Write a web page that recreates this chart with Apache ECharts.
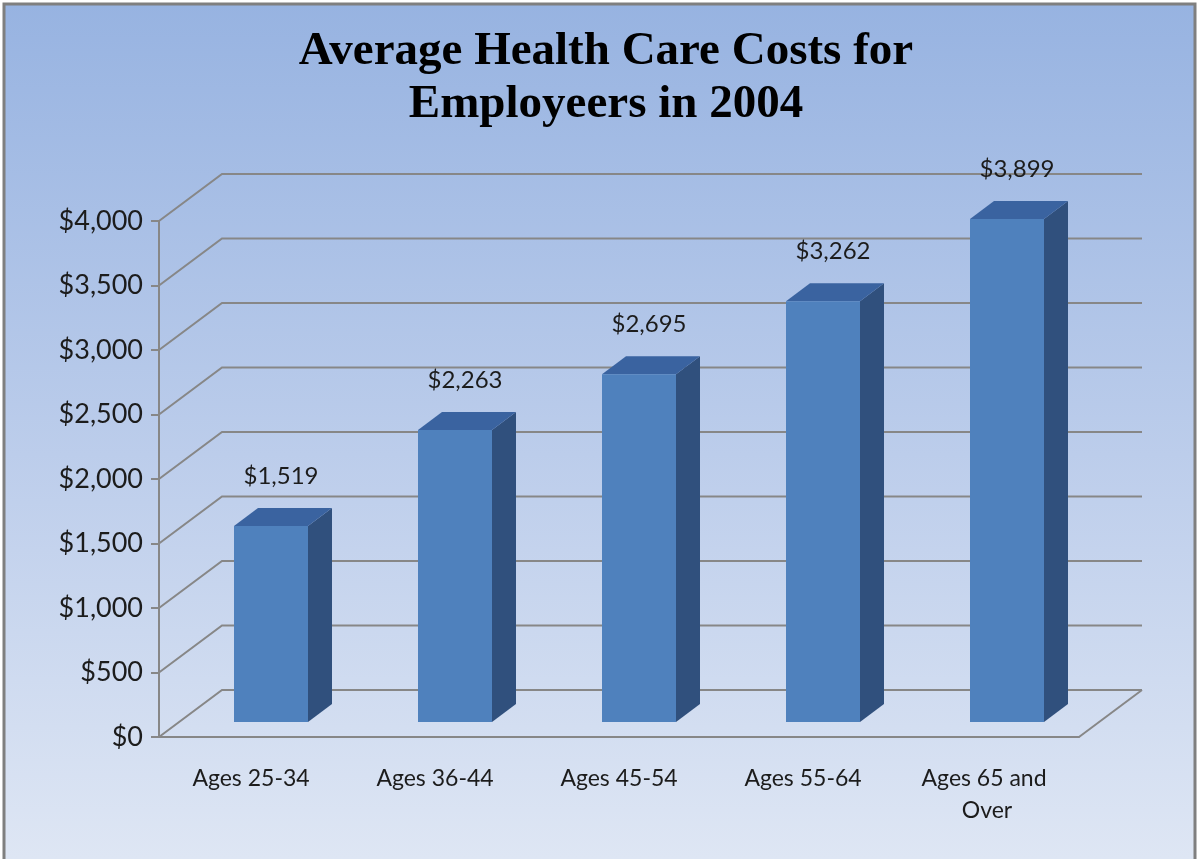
<!DOCTYPE html>
<html>
<head>
<meta charset="utf-8">
<script src="https://cdn.jsdelivr.net/npm/echarts@6/dist/echarts.min.js"></script>
<style>
  html, body { margin: 0; padding: 0; }
  #chart { width: 1197px; height: 859px; }
</style>
</head>
<body>
<div id="chart"></div>
<script>
// chart data
const categories = ["Ages 25-34", "Ages 36-44", "Ages 45-54", "Ages 55-64", "Ages 65 and Over"];
const costs = [1519, 2263, 2695, 3262, 3899];
const yTicks = [0, 500, 1000, 1500, 2000, 2500, 3000, 3500, 4000];

// fake 3d depth (pixels)
const WALL_DX = 63;
const WALL_DY = -47;
const BAR_SHIFT_X = 20;
const BAR_SHIFT_Y = -15;
const BAR_HALF = 37;
const BAR_DX = 24;
const BAR_DY = -18;

const money = (v) => "$" + v.toLocaleString("en-US");

const chart = echarts.init(document.getElementById("chart"));

const option = {
  animation: false,
  graphic: [
    {
      type: "rect",
      z: -10,
      shape: { x: 4, y: 4, width: 1191, height: 900 },
      style: {
        fill: new echarts.graphic.LinearGradient(0, 0, 0, 1, [
          { offset: 0, color: "#97b3e1" },
          { offset: 0.5, color: "#bccdeb" },
          { offset: 1, color: "#e2e9f5" },
        ]),
        stroke: "#7f7f7f",
        lineWidth: 3,
      },
    },
  ],
  title: {
    text: "Average Health Care Costs for\nEmployeers in 2004",
    left: 601,
    top: 20,
    textAlign: "center",
    textStyle: {
      fontFamily: "Liberation Serif",
      fontWeight: "bold",
      fontSize: 47,
      lineHeight: 53,
      color: "#000",
    },
  },
  grid: {
    left: 159,
    right: 118,
    top: 221,
    bottom: 122,
  },
  xAxis: {
    type: "category",
    data: categories,
    axisLine: { lineStyle: { color: "#878787", width: 2 } },
    axisTick: { length: 9, lineStyle: { color: "#878787", width: 2 } },
    axisLabel: {
      margin: 26,
      fontFamily: "Lato",
      fontSize: 23,
      lineHeight: 32,
      color: "#1c1c1c",
      width: 140,
      overflow: "break",
      interval: 0,
    },
    splitLine: { show: false },
  },
  yAxis: {
    type: "value",
    min: 0,
    max: 4000,
    interval: 500,
    axisLine: { show: true, lineStyle: { color: "#878787", width: 2 } },
    axisTick: { show: true, length: 8, lineStyle: { color: "#878787", width: 2 } },
    axisLabel: {
      margin: 16,
      fontFamily: "Lato",
      fontSize: 27,
      color: "#1c1c1c",
      formatter: (v) => money(v),
    },
    splitLine: { show: false },
  },
  series: [
    {
      // gridlines on side wall, back wall and floor
      type: "custom",
      clip: false,
      z: 1,
      silent: true,
      data: yTicks.map((v) => [0, v]),
      renderItem: (params, api) => {
        const cs = params.coordSys;
        const y = api.coord([0, api.value(1)])[1];
        const x0 = cs.x;
        const x1 = cs.x + cs.width;
        const children = [
          {
            type: "polyline",
            shape: {
              points: [
                [x0, y],
                [x0 + WALL_DX, y + WALL_DY],
                [x1 + WALL_DX, y + WALL_DY],
              ],
            },
            style: { stroke: "#878787", lineWidth: 2, fill: null },
          },
        ];
        if (api.value(1) === 0) {
          children.push({
            type: "line",
            shape: { x1: x1, y1: y, x2: x1 + WALL_DX, y2: y + WALL_DY },
            style: { stroke: "#878787", lineWidth: 2 },
          });
        }
        return { type: "group", children };
      },
    },
    {
      // 3d bars
      type: "custom",
      clip: false,
      z: 2,
      data: costs.map((v, i) => [i, v]),
      renderItem: (params, api) => {
        const base = api.coord([api.value(0), 0]);
        const top = api.coord([api.value(0), api.value(1)]);
        const cx = base[0] + BAR_SHIFT_X;
        const l = cx - BAR_HALF;
        const r = cx + BAR_HALF;
        const yb = base[1] + BAR_SHIFT_Y;
        const yt = top[1] + BAR_SHIFT_Y;
        return {
          type: "group",
          children: [
            {
              type: "polygon",
              shape: { points: [[r, yt], [r + BAR_DX, yt + BAR_DY], [r + BAR_DX, yb + BAR_DY], [r, yb]] },
              style: { fill: "#30507d" },
            },
            {
              type: "polygon",
              shape: { points: [[l, yt], [l + BAR_DX, yt + BAR_DY], [r + BAR_DX, yt + BAR_DY], [r, yt]] },
              style: { fill: "#3a63a0" },
            },
            {
              type: "rect",
              shape: { x: l, y: yt, width: BAR_HALF * 2, height: yb - yt },
              style: { fill: "#4f81bd" },
            },
            {
              type: "text",
              style: {
                x: cx + 10,
                y: yt - 50,
                text: money(api.value(1)),
                align: "center",
                verticalAlign: "middle",
                fontFamily: "Lato",
                fontSize: 24,
                fill: "#1c1c1c",
              },
            },
          ],
        };
      },
    },
  ],
};

chart.setOption(option);
</script>
</body>
</html>
